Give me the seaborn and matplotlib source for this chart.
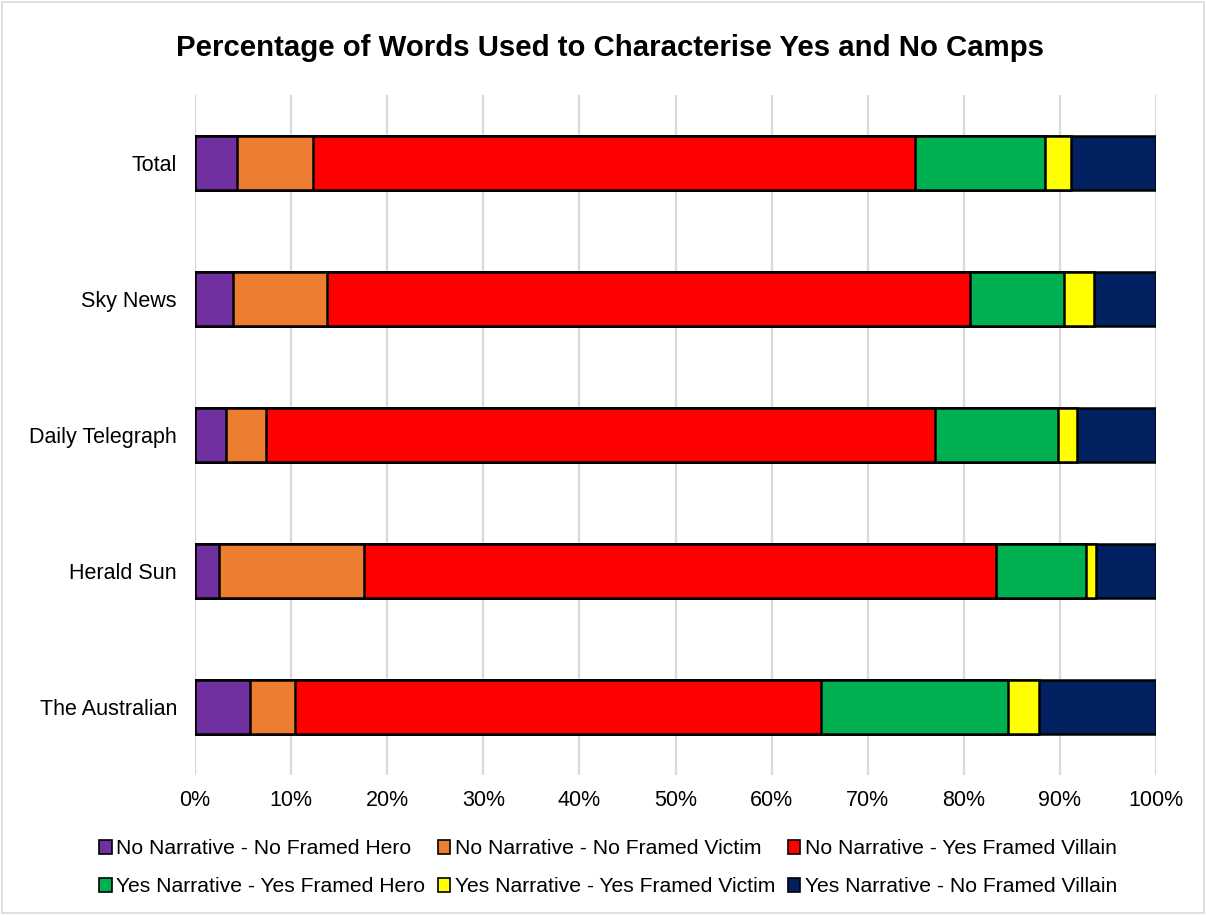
import matplotlib
matplotlib.use("Agg")
import matplotlib.pyplot as plt
from matplotlib.patches import Patch, Rectangle
from matplotlib.ticker import PercentFormatter
import numpy as np
import pandas as pd
import seaborn as sns

outlets = ["Total", "Sky News", "Daily Telegraph", "Herald Sun", "The Australian"]

series_names = [
    "No Narrative - No Framed Hero",
    "No Narrative - No Framed Victim",
    "No Narrative - Yes Framed Villain",
    "Yes Narrative - Yes Framed Hero",
    "Yes Narrative - Yes Framed Victim",
    "Yes Narrative - No Framed Villain",
]

# share of words (%) per outlet, one list per category
no_hero = [4.4, 4.0, 3.2, 2.5, 5.7]
no_victim = [7.9, 9.7, 4.2, 15.1, 4.7]
yes_villain = [62.6, 66.9, 69.6, 65.8, 54.7]
yes_hero = [13.5, 9.8, 12.8, 9.3, 19.5]
yes_victim = [2.8, 3.1, 2.0, 1.1, 3.2]
no_villain = [8.8, 6.5, 8.2, 6.2, 12.2]

series_values = [no_hero, no_victim, yes_villain, yes_hero, yes_victim, no_villain]

colors = ["#7030A0", "#ED7D31", "#FF0000", "#00B050", "#FFFF00", "#002060"]

sns.set_theme(style="white")
plt.rcParams["font.family"] = ["Liberation Sans", "DejaVu Sans"]
plt.rcParams["text.color"] = "black"

fig = plt.figure(figsize=(12.06, 9.15), dpi=100)
ax = fig.add_axes([195 / 1206, 1 - 775 / 915, (1156 - 195) / 1206, (775 - 95) / 915])

# stacked bars: draw cumulative totals from the outermost layer inwards
wide = pd.DataFrame(dict(zip(series_names, series_values)), index=outlets)
cumulative = wide.cumsum(axis=1)
for name, color in reversed(list(zip(series_names, colors))):
    df = pd.DataFrame({"outlet": outlets, "value": cumulative[name].values})
    sns.barplot(data=df, x="value", y="outlet", order=outlets, color=color,
                saturation=1, width=0.4, edgecolor="black", linewidth=1.8,
                ax=ax, zorder=3)

ax.set_xlim(0, 100)
ax.set_ylim(4.5, -0.5)
ax.set_xticks(np.arange(0, 101, 10))
ax.xaxis.set_major_formatter(PercentFormatter(decimals=0))
ax.grid(axis="x", color="#D9D9D9", linewidth=1.6, zorder=0)
ax.grid(axis="y", visible=False)
ax.set_axisbelow(True)
for s in ax.spines.values():
    s.set_visible(False)
ax.set_xlabel("")
ax.set_ylabel("")
ax.tick_params(axis="both", length=0, labelsize=15.5, colors="#000000")
ax.tick_params(axis="x", pad=11)
ax.tick_params(axis="y", pad=13)

fig.text(610 / 1206, 1 - 48 / 915, "Percentage of Words Used to Characterise Yes and No Camps",
         ha="center", va="center", fontsize=21.2, fontweight="bold", color="black")

handles = [Patch(facecolor=c, edgecolor="black", linewidth=1.2, label=n)
           for n, c in zip(series_names, colors)]
order = [0, 3, 1, 4, 2, 5]
fig.legend([handles[i] for i in order], [series_names[i] for i in order],
           loc="center", bbox_to_anchor=(608 / 1206, 1 - 868 / 915), ncol=3,
           frameon=False, fontsize=15.2, handlelength=0.6, handleheight=0.6,
           handletextpad=0.2, columnspacing=0.6, labelspacing=0.9,
           borderaxespad=0)

fig.patches.append(Rectangle((0.002, 0.002), 0.996, 0.996, transform=fig.transFigure,
                             fill=False, edgecolor="#D9D9D9", linewidth=1.2))

fig.savefig("out.png", dpi=100)
